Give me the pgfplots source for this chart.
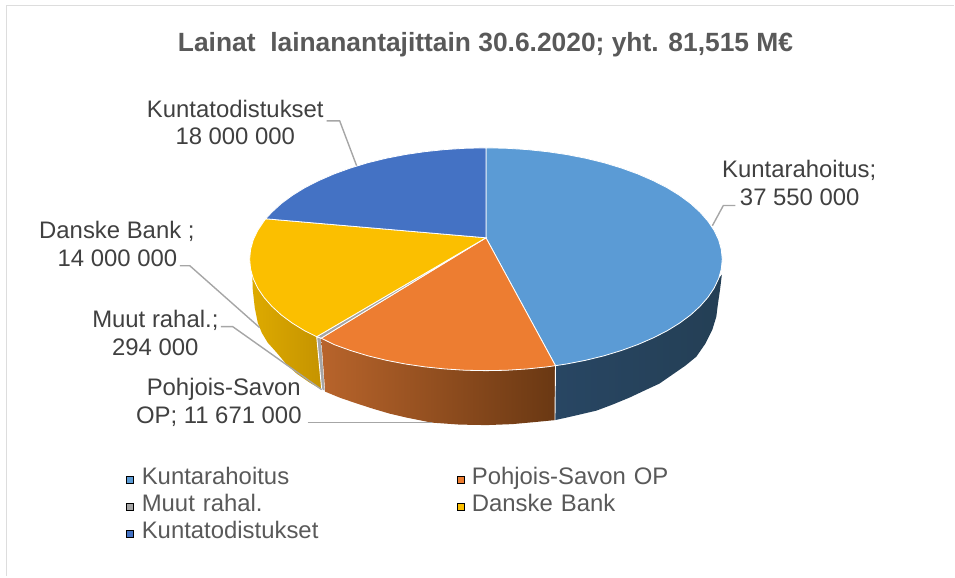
\documentclass[border=0pt]{standalone}
\usepackage{pgfplots}
\pgfplotsset{compat=1.18}
\usepackage{fontspec}
\setmainfont{Liberation Sans}
\definecolor{cK}{HTML}{5B9BD5}
\definecolor{cP}{HTML}{ED7D31}
\definecolor{cM}{HTML}{A5A5A5}
\definecolor{cD}{HTML}{FBBF00}
\definecolor{cT}{HTML}{4472C4}
\definecolor{wD1}{HTML}{DDAA00}
\definecolor{wD2}{HTML}{C59300}
\definecolor{wP1}{HTML}{B8642B}
\definecolor{wP2}{HTML}{6A3813}
\definecolor{wK1}{HTML}{284663}
\definecolor{wK2}{HTML}{243F55}
\definecolor{lab}{HTML}{404040}
\definecolor{leg}{HTML}{595959}
\definecolor{lead}{HTML}{A6A6A6}
\definecolor{frm}{HTML}{DDDDDD}
\begin{document}
\begin{tikzpicture}
\begin{axis}[
  scale only axis, width=955bp, height=577bp,
  xmin=0, xmax=955, ymin=0, ymax=577, y dir=reverse,
  hide axis, clip=false,
  legend columns=2,
  legend cell align=left,
  legend style={draw=none, fill=none, at={(0.1325,0.1885)}, anchor=north west,
    font=\fontsize{24pt}{26pt}\selectfont, text=leg,
    inner sep=0pt, outer sep=0pt,
    row sep=4.8bp,
    nodes={inner sep=0pt, text height=17.2bp, text depth=5bp, text width=315bp},
    /tikz/column 1/.style={column sep=8bp},
    /tikz/column 3/.style={column sep=8bp},
  },
  legend image code/.code={\fill[#1] (0pt,-4.2bp) rectangle ++(7bp,7bp);},
]
% frame
\addplot[frm, line width=1.8bp, forget plot] coordinates {(6.5,577) (6.5,5.5) (955,5.5)};
% side walls
\addplot[draw=none, left color=wD1, right color=wD2, forget plot] coordinates {
(317,337)(305.2,331.2)(292.7,323.5)(281.6,315.3)(272.1,306.6)(264.2,297.6)(258,288.4)(253.5,278.9)(252.5,275)
(253,290)(255,308)(258,323)(262,333)(268,343)(277,353)(287,365)(297,374)(310,383)(322,390)} --cycle;
\addplot[draw=white, line width=0.9bp, fill=cM, forget plot] coordinates {
(317,337)(321.5,338.5)(325.5,392)(322,390)} --cycle;
\addplot[draw=none, left color=wP1, right color=wP2, forget plot] coordinates {
(321.5,338.5)(334.4,344.9)(350.7,350.8)(368.1,356.1)(386.5,360.6)(405.5,364.3)(425.2,367.2)(445.3,369.3)(465.8,370.6)(486.4,371)(507,370.6)(527.5,369.3)(547.6,367.2)(556,366)
(555.5,420.5)(535,422.5)(513,424.5)(487,425.5)(460,425)(432,423)(407,418)(390,414)(373,409)(356,403.5)(340,398)(325.5,392)} --cycle;
\addplot[draw=none, left color=wK1, right color=wK2, forget plot] coordinates {
(556,366)(567.3,364.3)(586.3,360.6)(604.7,356.1)(622.1,350.8)(638.4,344.9)(653.6,338.3)(667.6,331.2)(680.1,323.5)(691.2,315.3)(700.7,306.6)(708.6,297.6)(714.8,288.4)(719.3,278.9)(722.5,275)
(720.7,290)(718.5,305)(717,317)(713,330)(706,344)(697,357)(686,366)(673,375)(660,384)(647,390)(630,398)(613,405)(597,411)(580,415)(567,418)(555.5,420.5)} --cycle;
\addplot[white, line width=0.9bp, forget plot] coordinates {(556,366)(555.5,420.5)};
% leader lines
\addplot[lead, line width=1.4bp, forget plot] coordinates {(327,121)(340,121)(357,166)};
\addplot[lead, line width=1.4bp, forget plot] coordinates {(713,226)(724,205.7)(736,205.7)};
\addplot[lead, line width=1.4bp, forget plot] coordinates {(180,266)(190,266)(260,328)};
\addplot[lead, line width=1.4bp, forget plot] coordinates {(221,327)(233,327)(322,390)};
\addplot[lead, line width=1.4bp, forget plot] coordinates {(308,423)(432,423)};
% top face
\addplot[fill=cK, draw=white, line width=0.8bp, forget plot] coordinates {
(486.4,238)(486.4,148)(507,148.4)(527.5,149.7)(547.6,151.8)(567.3,154.7)(586.3,158.4)(604.7,162.9)(622.1,168.2)(638.4,174.1)(653.6,180.7)(667.6,187.8)(680.1,195.5)(691.2,203.7)(700.7,212.4)(708.6,221.4)(714.8,230.6)(719.3,240.1)(722,249.8)(722.9,259.5)(722,269.2)(719.3,278.9)(714.8,288.4)(708.6,297.6)(700.7,306.6)(691.2,315.3)(680.1,323.5)(667.6,331.2)(653.6,338.3)(638.4,344.9)(622.1,350.8)(604.7,356.1)(586.3,360.6)(567.3,364.3)(556,366)} --cycle;
\addplot[fill=cP, draw=white, line width=0.8bp, forget plot] coordinates {
(486.4,238)(556,366)(547.6,367.2)(527.5,369.3)(507,370.6)(486.4,371)(465.8,370.6)(445.3,369.3)(425.2,367.2)(405.5,364.3)(386.5,360.6)(368.1,356.1)(350.7,350.8)(334.4,344.9)(321.5,338.5)} --cycle;
\addplot[fill=cM, draw=white, line width=0.8bp, forget plot] coordinates {
(486.4,238)(321.5,338.5)(317,337)} --cycle;
\addplot[fill=cD, draw=white, line width=0.8bp, forget plot] coordinates {
(486.4,238)(317,337)(305.2,331.2)(292.7,323.5)(281.6,315.3)(272.1,306.6)(264.2,297.6)(258,288.4)(253.5,278.9)(250.8,269.2)(249.9,259.5)(250.8,249.8)(253.5,240.1)(258,230.6)(264.2,221.4)(266,219)} --cycle;
\addplot[fill=cT, draw=white, line width=0.8bp, forget plot] coordinates {
(486.4,238)(266,219)(272.1,212.4)(281.6,203.7)(292.7,195.5)(305.2,187.8)(319.2,180.7)(334.4,174.1)(350.7,168.2)(368.1,162.9)(386.5,158.4)(405.5,154.7)(425.2,151.8)(445.3,149.7)(465.8,148.4)(486.4,148)} --cycle;
% legend
\addlegendimage{fill=cK}\addlegendentry{Kuntarahoitus}
\addlegendimage{fill=cP}\addlegendentry{Pohjois-Savon OP}
\addlegendimage{fill=cM}\addlegendentry{Muut rahal.}
\addlegendimage{fill=cD}\addlegendentry{Danske Bank}
\addlegendimage{fill=cT}\addlegendentry{Kuntatodistukset}
% texts
\tikzset{lb/.style={anchor=base, text=lab, font=\fontsize{24pt}{26pt}\selectfont, inner sep=0pt}}
\node[anchor=base, text=leg, inner sep=0pt, font=\fontsize{26.5pt}{28pt}\selectfont\bfseries] at (axis cs:486,52) {Lainat\ \ lainanantajittain 30.6.2020; yht. 81,515 M€};
\node[lb] at (axis cs:235.5,118) {Kuntatodistukset};
\node[lb] at (axis cs:235.5,145) {18 000 000};
\node[lb] at (axis cs:800,178) {Kuntarahoitus;};
\node[lb] at (axis cs:800.5,206) {37 550 000};
\node[lb] at (axis cs:117,239) {Danske Bank ;};
\node[lb] at (axis cs:117.5,267) {14 000 000};
\node[lb] at (axis cs:155.5,328) {Muut rahal.;};
\node[lb] at (axis cs:155.5,356) {294 000};
\node[lb] at (axis cs:224,396) {Pohjois-Savon};
\node[lb] at (axis cs:219,424) {OP; 11 671 000};
\end{axis}
\path (0,0) rectangle (955bp,577bp);
\end{tikzpicture}
\end{document}
